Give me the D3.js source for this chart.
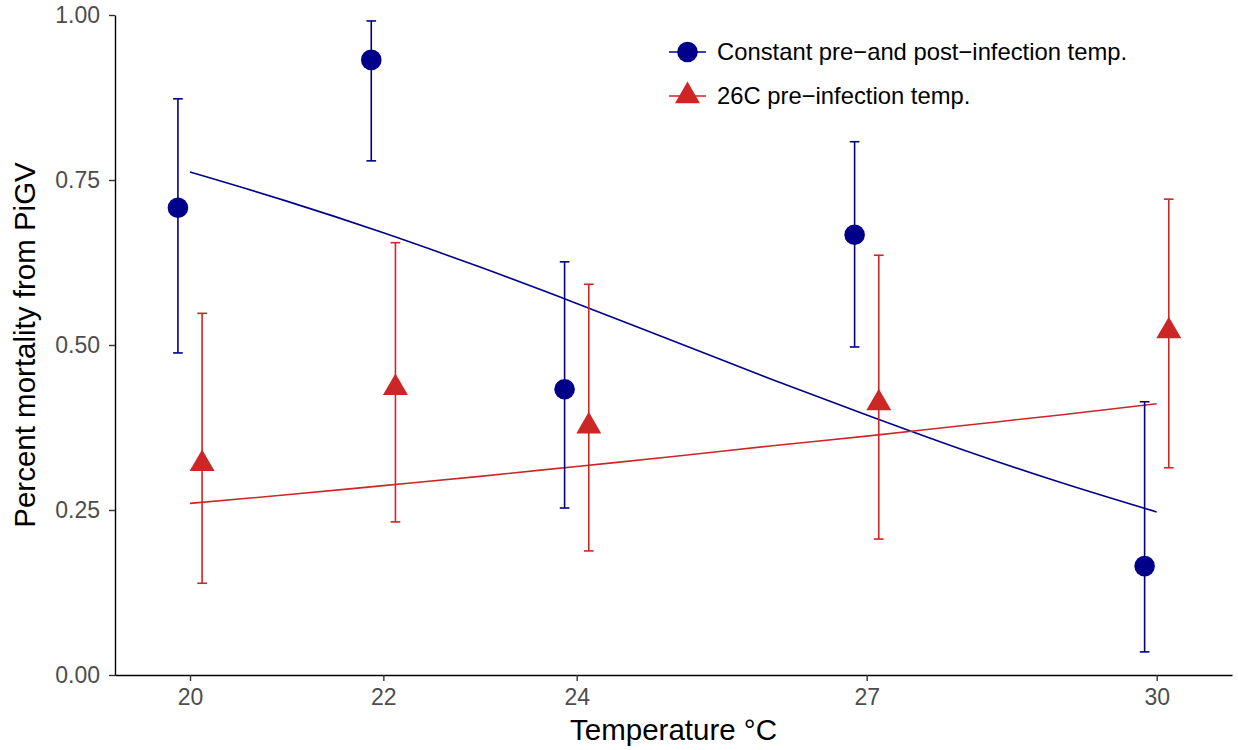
<!DOCTYPE html>
<html>
<head>
<meta charset="utf-8">
<script src="https://cdn.jsdelivr.net/npm/d3@7"></script>
<style>
  body { margin: 0; background: #fff; }
  svg { display: block; font-family: "Liberation Sans", Arial, sans-serif; }
</style>
</head>
<body>
<div id="chart"></div>
<script>
(function () {
  "use strict";

  // temperatures on the x axis
  const TEMPS = [20, 22, 24, 27, 30];
  const X_TICKS = [20, 22, 24, 27, 30];
  const Y_TICKS = [0, 0.25, 0.5, 0.75, 1];

  // constant pre- and post-infection temp (mean and error bar ends)
  const constMean = [0.708, 0.932, 0.433, 0.667, 0.165];
  const constLow = [0.488, 0.779, 0.253, 0.497, 0.035];
  const constHigh = [0.873, 0.991, 0.626, 0.808, 0.414];

  // 26C pre-infection temp
  const preMean = [0.320, 0.435, 0.377, 0.412, 0.521];
  const preLow = [0.139, 0.232, 0.188, 0.206, 0.314];
  const preHigh = [0.548, 0.655, 0.592, 0.636, 0.721];

  // fitted curves
  const FIT_TEMPS = [20, 21, 22, 23, 24, 25, 26, 27, 28, 29, 30];
  const constFit = [0.762, 0.718, 0.670, 0.618, 0.563, 0.506, 0.449, 0.394, 0.341, 0.292, 0.247];
  const preFit = [0.260, 0.273, 0.287, 0.301, 0.316, 0.331, 0.347, 0.362, 0.378, 0.394, 0.411];

  const LEGEND = ["Constant pre\u2212and post\u2212infection temp.", "26C pre\u2212infection temp."];

  const blue = "#00008B";
  const red = "#CD2626";
  const dodge = 0.125;
  const capHalf = 0.05;

  const width = 1238;
  const height = 750;
  const left = 115, right = 1232, top = 15, bottom = 675;

  const svg = d3.select("#chart").append("svg")
    .attr("width", width)
    .attr("height", height);

  const x = d3.scaleLinear().domain([19.224, 30.779]).range([left, right]);
  const y = d3.scaleLinear().domain([0, 1]).range([bottom, top]);

  // fitted lines
  const line = d3.line()
    .x((d) => x(d[0]))
    .y((d) => y(d[1]))
    .curve(d3.curveMonotoneX);

  svg.append("path")
    .attr("d", line(FIT_TEMPS.map((t, i) => [t, constFit[i]])))
    .attr("fill", "none")
    .attr("stroke", blue)
    .attr("stroke-width", 1.6);
  svg.append("path")
    .attr("d", line(FIT_TEMPS.map((t, i) => [t, preFit[i]])))
    .attr("fill", "none")
    .attr("stroke", red)
    .attr("stroke-width", 1.6);

  // error bars
  function errorBars(mean, low, high, offset, color) {
    const g = svg.append("g")
      .attr("stroke", color)
      .attr("stroke-width", 1.6)
      .attr("fill", "none");
    TEMPS.forEach((t, i) => {
      const cx = t + offset;
      g.append("line")
        .attr("x1", x(cx)).attr("x2", x(cx))
        .attr("y1", y(low[i])).attr("y2", y(high[i]));
      g.append("line")
        .attr("x1", x(cx - capHalf)).attr("x2", x(cx + capHalf))
        .attr("y1", y(low[i])).attr("y2", y(low[i]));
      g.append("line")
        .attr("x1", x(cx - capHalf)).attr("x2", x(cx + capHalf))
        .attr("y1", y(high[i])).attr("y2", y(high[i]));
    });
  }
  errorBars(constMean, constLow, constHigh, -dodge, blue);
  errorBars(preMean, preLow, preHigh, dodge, red);

  // points
  const triangle = d3.symbol().type(d3.symbolTriangle).size(270);

  svg.append("g").selectAll("circle")
    .data(TEMPS)
    .join("circle")
    .attr("cx", (t) => x(t - dodge))
    .attr("cy", (t, i) => y(constMean[i]))
    .attr("r", 10.3)
    .attr("fill", blue);

  svg.append("g").selectAll("path")
    .data(TEMPS)
    .join("path")
    .attr("transform", (t, i) => `translate(${x(t + dodge)},${y(preMean[i])})`)
    .attr("d", triangle)
    .attr("fill", red);

  // axes
  const xAxis = svg.append("g")
    .attr("transform", `translate(0,${bottom})`)
    .call(d3.axisBottom(x).tickValues(X_TICKS).tickSizeInner(6).tickSizeOuter(0).tickPadding(8).tickFormat(d3.format("d")));
  const yAxis = svg.append("g")
    .attr("transform", `translate(${left},0)`)
    .call(d3.axisLeft(y).tickValues(Y_TICKS).tickSizeInner(6).tickSizeOuter(0).tickPadding(9).tickFormat(d3.format(".2f")));

  [xAxis, yAxis].forEach((ax) => {
    ax.select(".domain").attr("stroke", "#000").attr("stroke-width", 1.4);
    ax.selectAll(".tick line").attr("stroke", "#333").attr("stroke-width", 1.4);
    ax.selectAll(".tick text")
      .attr("fill", "#4d4d4d")
      .attr("font-size", 23)
      .attr("font-family", "Liberation Sans, Arial, sans-serif");
  });

  // axis titles
  svg.append("text")
    .attr("x", (left + right) / 2)
    .attr("y", 740)
    .attr("text-anchor", "middle")
    .attr("font-size", 29.5)
    .attr("fill", "#000")
    .text("Temperature \u00b0C");

  svg.append("text")
    .attr("transform", `translate(35,${(top + bottom) / 2}) rotate(-90)`)
    .attr("text-anchor", "middle")
    .attr("font-size", 29.5)
    .attr("fill", "#000")
    .text("Percent mortality from PiGV");

  // legend
  const legend = svg.append("g").attr("transform", "translate(669,52)");
  const rowGap = 44;
  LEGEND.forEach((label, i) => {
    const row = legend.append("g").attr("transform", `translate(0,${i * rowGap})`);
    const color = i === 0 ? blue : red;
    row.append("line")
      .attr("x1", 0).attr("x2", 37)
      .attr("y1", 0).attr("y2", 0)
      .attr("stroke", color)
      .attr("stroke-width", 1.6);
    if (i === 0) {
      row.append("circle").attr("cx", 18.5).attr("cy", 0).attr("r", 10.3).attr("fill", color);
    } else {
      row.append("path").attr("transform", "translate(18.5,0)").attr("d", triangle).attr("fill", color);
    }
    row.append("text")
      .attr("x", 48)
      .attr("y", 0)
      .attr("dy", "0.35em")
      .attr("font-size", 23.8)
      .attr("fill", "#000")
      .text(label);
  });
})();
</script>
</body>
</html>
